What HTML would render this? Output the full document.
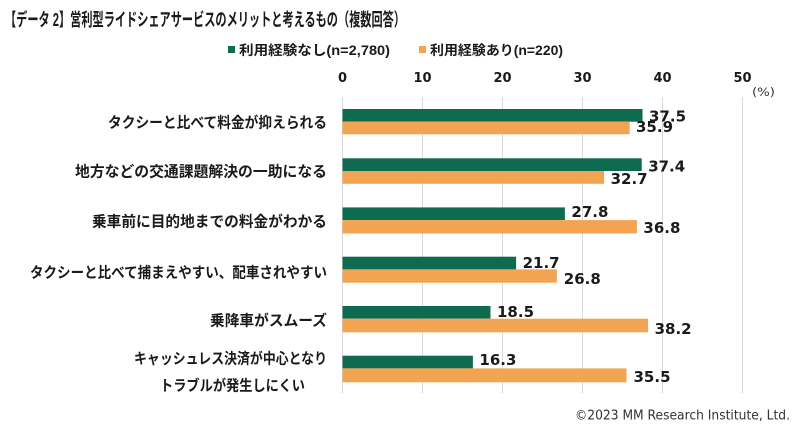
<!DOCTYPE html>
<html>
<head>
<meta charset="utf-8">
<style>
html,body{margin:0;padding:0;background:#fff;}
svg{display:block;}
.cj{font-family:"Liberation Sans","Noto Sans CJK JP",sans-serif;font-weight:bold;fill:#1a1a1a;}
.num{font-family:"DejaVu Sans","Liberation Sans",sans-serif;font-weight:bold;fill:#1a1a1a;}
</style>
</head>
<body>
<svg width="800" height="427" viewBox="0 0 800 427" xmlns="http://www.w3.org/2000/svg">
<rect width="800" height="427" fill="#fff"/>
<!-- Title -->
<text class="cj" x="5" y="26" font-size="18" textLength="400" lengthAdjust="spacingAndGlyphs">【データ 2】営利型ライドシェアサービスのメリットと考えるもの（複数回答）</text>

<!-- Legend -->
<rect x="228" y="46" width="7" height="7" fill="#0f6b50"/>
<text class="cj" x="239" y="55" font-size="13.5" textLength="151" lengthAdjust="spacingAndGlyphs">利用経験なし(n=2,780)</text>
<rect x="419" y="46" width="7" height="7" fill="#f2a452"/>
<text class="cj" x="430" y="55" font-size="13.5" textLength="133" lengthAdjust="spacingAndGlyphs">利用経験あり(n=220)</text>

<!-- Tick labels -->
<g class="num" font-size="13" text-anchor="middle">
<text x="342.5" y="82">0</text>
<text x="422.5" y="82">10</text>
<text x="502.5" y="82">20</text>
<text x="582.5" y="82">30</text>
<text x="662.5" y="82">40</text>
<text x="742.5" y="82">50</text>
</g>
<text x="752" y="96" font-family="DejaVu Sans, Liberation Sans, sans-serif" font-size="11.5" fill="#333" textLength="23" lengthAdjust="spacingAndGlyphs">(%)</text>

<!-- Gridlines -->
<g stroke="#d9d9d9" stroke-width="1">
<line x1="342.5" y1="97" x2="342.5" y2="393"/>
<line x1="422.5" y1="97" x2="422.5" y2="393"/>
<line x1="502.5" y1="97" x2="502.5" y2="393"/>
<line x1="582.5" y1="97" x2="582.5" y2="393"/>
<line x1="662.5" y1="97" x2="662.5" y2="393"/>
<line x1="742.5" y1="97" x2="742.5" y2="393"/>
</g>

<!-- Bars -->
<g fill="#0f6b50">
<rect x="342.5" y="109" width="300" height="12.7"/>
<rect x="342.5" y="158.3" width="299.2" height="12.7"/>
<rect x="342.5" y="207.4" width="222.4" height="12.7"/>
<rect x="342.5" y="256.7" width="173.6" height="12.7"/>
<rect x="342.5" y="306" width="148" height="12.7"/>
<rect x="342.5" y="355.7" width="130.4" height="12.7"/>
</g>
<g fill="#f2a452">
<rect x="342.5" y="121.7" width="287.2" height="12.6"/>
<rect x="342.5" y="171" width="261.6" height="12.8"/>
<rect x="342.5" y="220.1" width="294.4" height="13.4"/>
<rect x="342.5" y="269.4" width="214.4" height="13.3"/>
<rect x="342.5" y="318.7" width="305.6" height="13.6"/>
<rect x="342.5" y="368.4" width="284" height="13.9"/>
</g>

<!-- Value labels -->
<g class="num" font-size="15">
<text x="649" y="121.5">37.5</text>
<text x="636" y="132.2">35.9</text>
<text x="648.2" y="171.5">37.4</text>
<text x="610.6" y="183.8">32.7</text>
<text x="571.4" y="217.2">27.8</text>
<text x="643.4" y="233.2">36.8</text>
<text x="522.6" y="268.2">21.7</text>
<text x="563.8" y="283.8">26.8</text>
<text x="497" y="317.2">18.5</text>
<text x="654.6" y="333.8">38.2</text>
<text x="479.4" y="364.8">16.3</text>
<text x="633.5" y="382.2">35.5</text>
</g>

<!-- Category labels -->
<g class="cj" font-size="15" text-anchor="end">
<text x="327" y="127.4" textLength="219" lengthAdjust="spacingAndGlyphs">タクシーと比べて料金が抑えられる</text>
<text x="327" y="176.7" textLength="252" lengthAdjust="spacingAndGlyphs">地方などの交通課題解決の一助になる</text>
<text x="327" y="226.4" textLength="235" lengthAdjust="spacingAndGlyphs">乗車前に目的地までの料金がわかる</text>
<text x="327" y="277.4" textLength="297" lengthAdjust="spacingAndGlyphs">タクシーと比べて捕まえやすい、配車されやすい</text>
<text x="327" y="325.7" textLength="117" lengthAdjust="spacingAndGlyphs">乗降車がスムーズ</text>
<text x="327" y="363.7" textLength="193" lengthAdjust="spacingAndGlyphs">キャッシュレス決済が中心となり</text>
<text x="305" y="390.7" textLength="145" lengthAdjust="spacingAndGlyphs">トラブルが発生しにくい</text>
</g>

<!-- Copyright -->
<text x="575" y="419.5" font-family="DejaVu Sans, Liberation Sans, sans-serif" font-size="13.5" fill="#333" textLength="215" lengthAdjust="spacingAndGlyphs">©2023 MM Research Institute, Ltd.</text>
</svg>
</body>
</html>
